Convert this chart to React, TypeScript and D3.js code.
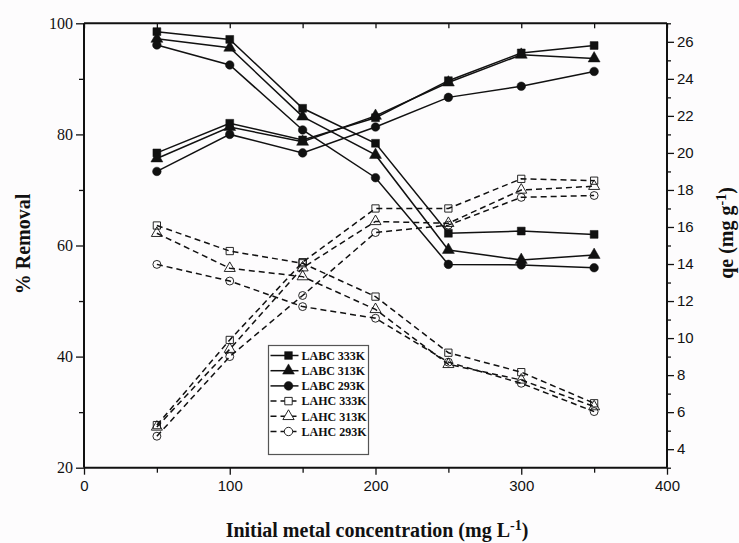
import React, { useEffect, useRef } from 'react';
import * as d3 from 'd3';

const concentrations = [50, 100, 150, 200, 250, 300, 350];

// % removal (left axis)
const labcRemoval333 = [98.5, 97.1, 84.7, 78.4, 62.2, 62.6, 62.0];
const labcRemoval313 = [97.2, 95.6, 83.2, 76.3, 59.2, 57.4, 58.3];
const labcRemoval293 = [96.1, 92.5, 80.8, 72.2, 56.6, 56.5, 56.0];
const lahcRemoval333 = [63.6, 59.0, 56.8, 50.8, 40.7, 37.2, 31.6];
const lahcRemoval313 = [62.2, 55.9, 54.4, 48.5, 38.6, 35.8, 31.0];
const lahcRemoval293 = [56.6, 53.6, 49.0, 46.9, 39.0, 35.2, 30.1];

// qe (right axis)
const labcQe333 = [20.0, 21.6, 20.7, 21.9, 23.9, 25.4, 25.8];
const labcQe313 = [19.7, 21.4, 20.6, 22.0, 23.8, 25.3, 25.1];
const labcQe293 = [19.0, 21.0, 20.0, 21.4, 23.0, 23.6, 24.4];
const lahcQe333 = [5.3, 9.9, 14.1, 17.0, 17.0, 18.6, 18.5];
const lahcQe313 = [5.2, 9.4, 13.8, 16.3, 16.2, 18.0, 18.2];
const lahcQe293 = [4.7, 9.0, 12.3, 15.7, 16.1, 17.6, 17.7];

const seriesNames = ['LABC 333K', 'LABC 313K', 'LABC 293K', 'LAHC 333K', 'LAHC 313K', 'LAHC 293K'];
const leftTicks = [20, 40, 60, 80, 100];
const rightTicks = [4, 6, 8, 10, 12, 14, 16, 18, 20, 22, 24, 26];
const bottomTicks = [0, 100, 200, 300, 400];

const App = () => {
  const svgRef = useRef(null);

  useEffect(() => {
    document.body.style.margin = '0';
    const svg = d3.select(svgRef.current);
    svg.selectAll('*').remove();

    const left = 84, right = 667, top = 23.3, bottom = 467.7;

    const x = d3.scaleLinear().domain([0, 400]).range([left, right]);
    const yL = d3.scaleLinear().domain([20, 100]).range([bottom, top]);
    const yR = d3.scaleLinear().domain([3, 27]).range([bottom, top]);

    svg.append('rect').attr('width', 739).attr('height', 543).attr('fill', '#fdfcfd');

    // axes
    const axisFont = 'Liberation Sans, Arial, sans-serif';
    const serif = 'Liberation Serif, Times New Roman, serif';

    const gB = svg.append('g').attr('transform', `translate(0,${bottom})`)
      .call(d3.axisBottom(x).tickValues(d3.range(0, 401, 50)).tickSize(7).tickFormat(d => bottomTicks.includes(d) ? d : ''));
    gB.selectAll('.tick line').attr('y2', d => bottomTicks.includes(d) ? 7 : 5);
    gB.selectAll('text').attr('font-family', axisFont).attr('font-size', 15).attr('dy', '0.9em');

    const gT = svg.append('g').attr('transform', `translate(0,${top})`)
      .call(d3.axisTop(x).tickValues(d3.range(0, 401, 50)).tickSize(-5).tickFormat(() => ''));

    const gL = svg.append('g').attr('transform', `translate(${left},0)`)
      .call(d3.axisLeft(yL).tickValues(d3.range(20, 101, 10)).tickSize(8).tickFormat(d => leftTicks.includes(d) ? d : ''));
    gL.selectAll('.tick line').attr('x2', d => leftTicks.includes(d) ? -8 : -5);
    gL.selectAll('text').attr('font-family', serif).attr('font-size', 16);

    const gR = svg.append('g').attr('transform', `translate(${right},0)`)
      .call(d3.axisRight(yR).tickValues(d3.range(3, 28, 1)).tickSize(7).tickFormat(d => rightTicks.includes(d) ? d : ''));
    gR.selectAll('.tick line').attr('x2', d => rightTicks.includes(d) ? 7 : 4);
    gR.selectAll('text').attr('font-family', axisFont).attr('font-size', 15);

    [gB, gT, gL, gR].forEach(g => {
      g.select('.domain').attr('stroke-width', 2).attr('stroke', '#111');
      g.selectAll('.tick line').attr('stroke-width', 1.3).attr('stroke', '#111');
      g.selectAll('text').attr('fill', '#111');
    });
    gB.select('.domain').attr('d', `M${left},0H${right}`);
    gT.select('.domain').attr('d', `M${left},0H${right}`);
    gL.select('.domain').attr('d', `M0,${top}V${bottom}`);
    gR.select('.domain').attr('d', `M0,${top}V${bottom}`);

    const shapes = [d3.symbolSquare, d3.symbolTriangle, d3.symbolCircle];
    const sizes = [62, 62, 58];

    const groups = [
      { vals: [labcRemoval333, labcRemoval313, labcRemoval293], y: yL, open: false },
      { vals: [labcQe333, labcQe313, labcQe293], y: yR, open: false },
      { vals: [lahcRemoval333, lahcRemoval313, lahcRemoval293], y: yL, open: true },
      { vals: [lahcQe333, lahcQe313, lahcQe293], y: yR, open: true },
    ];

    const plot = svg.append('g');
    groups.forEach(g => {
      g.vals.forEach((vals, k) => {
        const line = d3.line<number>().x((d, i) => x(concentrations[i])).y(d => g.y(d));
        plot.append('path')
          .attr('d', line(vals))
          .attr('fill', 'none')
          .attr('stroke', '#111')
          .attr('stroke-width', 1.5)
          .attr('stroke-dasharray', g.open ? '6,4' : null);
        plot.selectAll(null)
          .data(vals)
          .join('path')
          .attr('transform', (d, i) => `translate(${x(concentrations[i])},${g.y(d)})`)
          .attr('d', d3.symbol().type(shapes[k]).size(g.open ? sizes[k] * 0.85 : sizes[k]))
          .attr('fill', g.open ? 'none' : '#111')
          .attr('stroke', '#111')
          .attr('stroke-width', g.open ? 0.9 : 0.5);
      });
    });

    // legend
    const lg = svg.append('g').attr('transform', 'translate(268.5,345.5)');
    lg.append('rect').attr('width', 100).attr('height', 109)
      .attr('fill', 'white').attr('stroke', '#555').attr('stroke-width', 1.2);
    seriesNames.forEach((name, i) => {
      const yy = 10 + i * 15.2;
      const open = i >= 3;
      lg.append('line').attr('x1', 2).attr('x2', 30).attr('y1', yy).attr('y2', yy)
        .attr('stroke', '#111').attr('stroke-width', 1.5)
        .attr('stroke-dasharray', open ? '6,4' : null);
      lg.append('path').attr('transform', `translate(20,${yy})`)
        .attr('d', d3.symbol().type(shapes[i % 3]).size(open ? 55 : 60))
        .attr('fill', open ? 'white' : '#111').attr('stroke', '#111').attr('stroke-width', open ? 0.9 : 0.5);
      lg.append('text').attr('x', 33).attr('y', yy).attr('dy', '0.35em')
        .attr('font-family', serif).attr('font-weight', 'bold').attr('font-size', 12)
        .attr('fill', '#111').text(name);
    });

    // titles
    svg.append('text')
      .attr('transform', `translate(30,244) rotate(-90)`)
      .attr('text-anchor', 'middle')
      .attr('font-family', serif).attr('font-weight', 'bold').attr('font-size', 20)
      .attr('fill', '#111').text('% Removal');

    const rt = svg.append('text')
      .attr('transform', `translate(733,233) rotate(-90)`)
      .attr('text-anchor', 'middle')
      .attr('font-family', serif).attr('font-weight', 'bold').attr('font-size', 20)
      .attr('fill', '#111');
    rt.append('tspan').text('qe (mg g');
    rt.append('tspan').attr('dy', -7).attr('font-size', 14).text('-1');
    rt.append('tspan').attr('dy', 7).text(')');

    const bt = svg.append('text')
      .attr('x', 377).attr('y', 537)
      .attr('text-anchor', 'middle')
      .attr('font-family', serif).attr('font-weight', 'bold').attr('font-size', 20)
      .attr('fill', '#111');
    bt.append('tspan').text('Initial metal concentration (mg L');
    bt.append('tspan').attr('dy', -7).attr('font-size', 14).text('-1');
    bt.append('tspan').attr('dy', 7).text(')');
  }, []);

  return <svg ref={svgRef} width={739} height={543} style={{ display: 'block' }} />;
};

export default App;
